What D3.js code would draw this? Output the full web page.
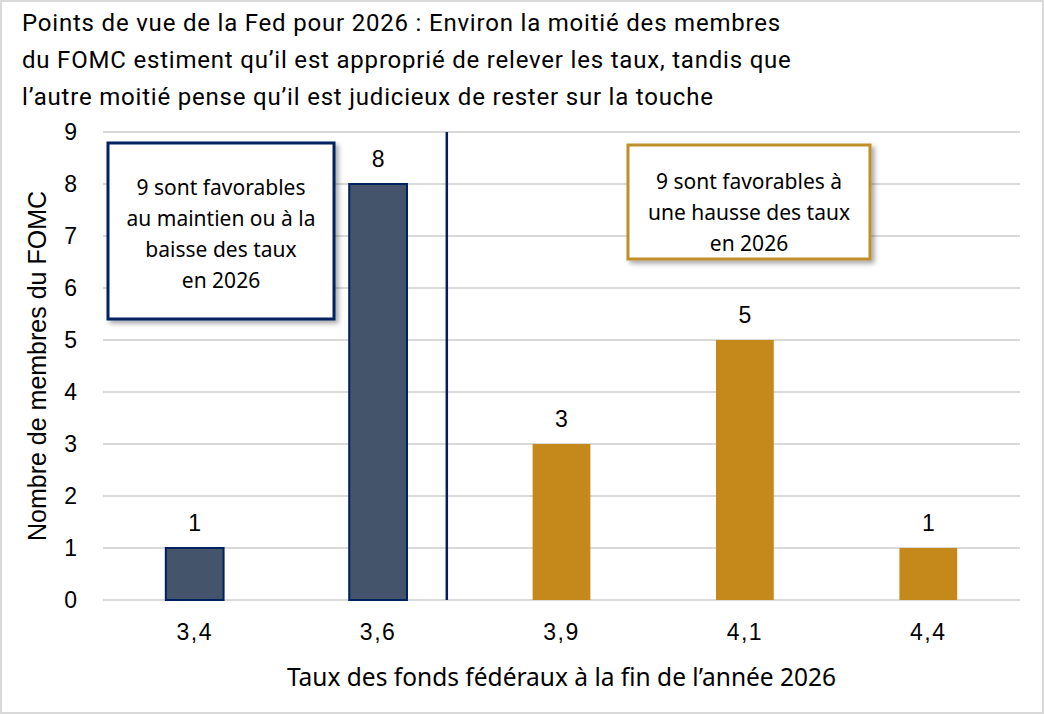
<!DOCTYPE html>
<html>
<head>
<meta charset="utf-8">
<script src="https://cdn.jsdelivr.net/npm/d3@7"></script>
<style>
  body { margin: 0; background: #fff; }
  svg { display: block; }
</style>
</head>
<body>
<div id="chart"></div>
<script>
// data
var rates = ["3,4", "3,6", "3,9", "4,1", "4,4"];
var members = [1, 8, 3, 5, 1];
var groups = ["baisse", "baisse", "hausse", "hausse", "hausse"];
var yTicks = [0, 1, 2, 3, 4, 5, 6, 7, 8, 9];

var titleLines = [
  "Points de vue de la Fed pour 2026 : Environ la moitié des membres",
  "du FOMC estiment qu’il est approprié de relever les taux, tandis que",
  "l’autre moitié pense qu’il est judicieux de rester sur la touche"
];
var leftNote = ["9 sont favorables", "au maintien ou à la", "baisse des taux", "en 2026"];
var rightNote = ["9 sont favorables à", "une hausse des taux", "en 2026"];

var svgWidth = 1044;
var svgHeight = 714;

var margin = { top: 132, right: 24, bottom: 114, left: 103 };
var width = svgWidth - margin.left - margin.right;
var height = svgHeight - margin.top - margin.bottom;

var navy = "#002060";
var slate = "#44546A";
var gold = "#C5891B";

var data = rates.map(function(r, i) {
  return { rate: r, count: members[i], group: groups[i] };
});

var svg = d3.select("#chart")
  .append("svg")
  .attr("width", svgWidth)
  .attr("height", svgHeight);

var defs = svg.append("defs");
var shadow = defs.append("filter")
  .attr("id", "shadow")
  .attr("x", "-10%").attr("y", "-10%")
  .attr("width", "130%").attr("height", "130%");
shadow.append("feDropShadow")
  .attr("dx", 3).attr("dy", 3)
  .attr("stdDeviation", 2.5)
  .attr("flood-color", "#000")
  .attr("flood-opacity", 0.35);

// outer frame
svg.append("rect")
  .attr("x", 1).attr("y", 1)
  .attr("width", svgWidth - 2).attr("height", svgHeight - 2)
  .attr("fill", "#fff")
  .attr("stroke", "#d9d9d9")
  .attr("stroke-width", 2);

// title
svg.append("g")
  .selectAll("text")
  .data(titleLines)
  .enter()
  .append("text")
  .attr("x", 22)
  .attr("y", (d, i) => 31 + i * 37)
  .attr("font-family", "Roboto, sans-serif")
  .attr("font-size", 24)
  .attr("letter-spacing", 0.8)
  .attr("fill", "#000")
  .text(d => d);

var chartGroup = svg.append("g")
  .attr("transform", `translate(${margin.left}, ${margin.top})`);

var xScale = d3.scaleBand()
  .domain(rates)
  .range([0, width])
  .paddingInner(0.685)
  .paddingOuter(0.3425);

var yScale = d3.scaleLinear()
  .domain([0, 9])
  .range([height, 0]);

// gridlines
chartGroup.append("g")
  .selectAll("line")
  .data(yTicks)
  .enter()
  .append("line")
  .attr("x1", 0)
  .attr("x2", width)
  .attr("y1", d => yScale(d))
  .attr("y2", d => yScale(d))
  .attr("stroke", "#d9d9d9")
  .attr("stroke-width", 2);

// y axis labels
var leftAxis = d3.axisLeft(yScale).tickValues(yTicks).tickSize(0).tickPadding(26);
chartGroup.append("g")
  .call(leftAxis)
  .call(g => g.select(".domain").remove())
  .selectAll("text")
  .attr("font-family", "'Liberation Sans', Arial, sans-serif")
  .attr("font-size", 23)
  .attr("fill", "#000");

// x axis labels
var bottomAxis = d3.axisBottom(xScale).tickSize(0).tickPadding(24);
chartGroup.append("g")
  .attr("transform", `translate(0, ${height})`)
  .call(bottomAxis)
  .call(g => g.select(".domain").remove())
  .selectAll("text")
  .attr("font-family", "'Liberation Sans', Arial, sans-serif")
  .attr("font-size", 23)
  .attr("letter-spacing", 1.5)
  .attr("fill", "#000");

// bars
chartGroup.selectAll("rect.bar")
  .data(data)
  .enter()
  .append("rect")
  .attr("class", "bar")
  .attr("x", d => xScale(d.rate))
  .attr("y", d => yScale(d.count))
  .attr("width", xScale.bandwidth())
  .attr("height", d => height - yScale(d.count))
  .attr("fill", d => d.group === "baisse" ? slate : gold)
  .attr("stroke", d => d.group === "baisse" ? navy : "none")
  .attr("stroke-width", 2);

// value labels
chartGroup.selectAll("text.value")
  .data(data)
  .enter()
  .append("text")
  .attr("class", "value")
  .attr("x", d => xScale(d.rate) + xScale.bandwidth() / 2)
  .attr("y", d => yScale(d.count) - 17)
  .attr("text-anchor", "middle")
  .attr("font-family", "'Liberation Sans', Arial, sans-serif")
  .attr("font-size", 23)
  .attr("fill", "#000")
  .text(d => d.count);

// divider between 3,6 and 3,9
var divX = (xScale("3,6") + xScale.bandwidth() + xScale("3,9")) / 2 - 23;
chartGroup.append("line")
  .attr("x1", divX).attr("x2", divX)
  .attr("y1", yScale(9)).attr("y2", yScale(0))
  .attr("stroke", navy)
  .attr("stroke-width", 2.5);

// annotation boxes
function noteBox(x, y, w, h, color, lines, lineStart, lineGap) {
  var g = chartGroup.append("g");
  g.append("rect")
    .attr("x", x).attr("y", y)
    .attr("width", w).attr("height", h)
    .attr("fill", "#fff")
    .attr("stroke", color)
    .attr("stroke-width", 3)
    .attr("filter", "url(#shadow)");
  g.selectAll("text")
    .data(lines)
    .enter()
    .append("text")
    .attr("x", x + w / 2)
    .attr("y", (d, i) => y + lineStart + i * lineGap)
    .attr("text-anchor", "middle")
    .attr("font-family", "'Noto Sans', 'Open Sans', sans-serif")
    .attr("font-size", 21)
    .attr("fill", "#000")
    .text(d => d);
}

noteBox(5, 11, 226, 176, navy, leftNote, 52, 31);
noteBox(525, 13, 242, 114, "#BF8F2B", rightNote, 44, 31);

// axis titles
svg.append("text")
  .attr("transform", `translate(46, ${margin.top + height / 2}) rotate(-90)`)
  .attr("text-anchor", "middle")
  .attr("font-family", "'Liberation Sans', Arial, sans-serif")
  .attr("font-size", 25)
  .attr("fill", "#000")
  .text("Nombre de membres du FOMC");

svg.append("text")
  .attr("x", margin.left + width / 2)
  .attr("y", 686)
  .attr("text-anchor", "middle")
  .attr("font-family", "'Noto Sans', 'Open Sans', sans-serif")
  .attr("font-size", 24.5)
  .attr("fill", "#000")
  .text("Taux des fonds fédéraux à la fin de l’année 2026");
</script>
</body>
</html>
